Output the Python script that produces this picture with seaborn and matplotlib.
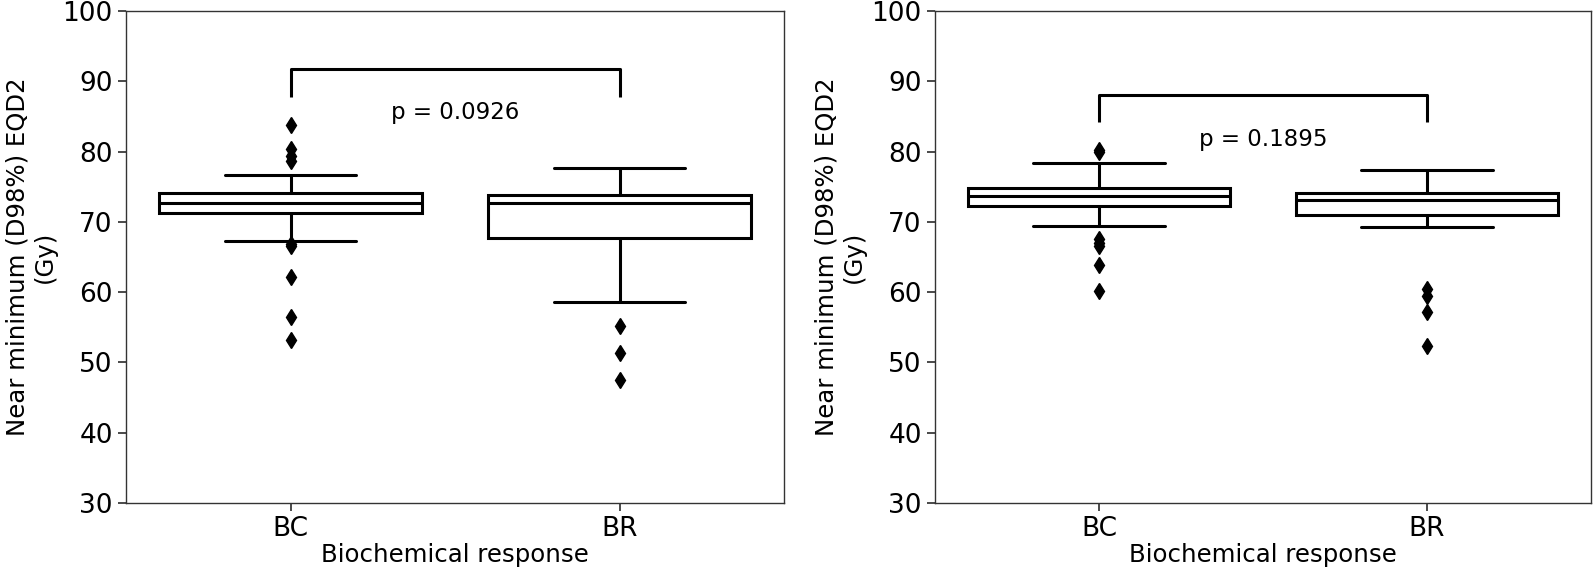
import numpy as np
import pandas as pd
import matplotlib
matplotlib.use("Agg")
import matplotlib.pyplot as plt
import seaborn as sns

# values (Gy)
groups = ["BC", "BR"]

# left panel
left_q1 = [71.3, 67.7]
left_median = [72.7, 72.7]
left_q3 = [74.1, 73.8]
left_whisker_low = [67.2, 58.6]
left_whisker_high = [76.7, 77.7]
left_outliers = [
    [53.2, 56.5, 62.2, 66.5, 66.9, 78.7, 79.3, 80.3, 83.8],
    [47.5, 51.3, 55.1],
]
left_p = "p = 0.0926"
left_bracket = [87.8, 91.7]   # leg bottom, bar top
left_p_y = 85.5

# right panel
right_q1 = [72.3, 70.9]
right_median = [73.7, 73.1]
right_q3 = [74.8, 74.1]
right_whisker_low = [69.4, 69.2]
right_whisker_high = [78.4, 77.3]
right_outliers = [
    [60.2, 63.8, 66.5, 67.0, 67.5, 79.9, 80.2],
    [52.3, 57.2, 59.4, 60.4],
]
right_p = "p = 0.1895"
right_bracket = [84.2, 88.1]
right_p_y = 81.7


def build_sample(q1, med, q3, wlo, whi, outliers):
    # sample whose quartiles / whiskers reproduce the read box statistics
    rows = []
    for i, g in enumerate(groups):
        vals = list(outliers[i]) + [wlo[i], whi[i]]
        vals += [q1[i]] * 20 + [med[i]] * 10 + [q3[i]] * 20
        rows += [(g, v) for v in vals]
    return pd.DataFrame(rows, columns=["group", "value"])


left_df = build_sample(left_q1, left_median, left_q3,
                       left_whisker_low, left_whisker_high, left_outliers)
right_df = build_sample(right_q1, right_median, right_q3,
                        right_whisker_low, right_whisker_high, right_outliers)

sns.set_theme(style="ticks")
plt.rcParams["font.family"] = ["DejaVu Sans"]
plt.rcParams["axes.edgecolor"] = "#333333"
plt.rcParams["axes.linewidth"] = 1.0
plt.rcParams["text.color"] = "black"
plt.rcParams["axes.labelcolor"] = "black"
plt.rcParams["xtick.labelcolor"] = "black"
plt.rcParams["ytick.labelcolor"] = "black"

fig = plt.figure(figsize=(15.94, 5.78), dpi=100)
ax1 = fig.add_axes([0.079, 0.130, 0.413, 0.851])
ax2 = fig.add_axes([0.5866, 0.130, 0.4115, 0.851])

panels = [
    (ax1, left_df, left_p, left_bracket, left_p_y),
    (ax2, right_df, right_p, right_bracket, right_p_y),
]

for ax, df, ptxt, bracket, py in panels:
    sns.boxplot(data=df, x="group", y="value", order=groups, ax=ax,
                color="white", linecolor="black", linewidth=2.2,
                fliersize=8, width=0.8,
                flierprops=dict(marker="d", markerfacecolor="black",
                                markeredgecolor="black"))
    ax.plot([0, 0, 1, 1], [bracket[0], bracket[1], bracket[1], bracket[0]],
            color="black", lw=2.2, solid_capstyle="butt")
    ax.text(0.5, py, ptxt, ha="center", va="center", fontsize=16.5)
    ax.set_ylim(30, 100)
    ax.set_yticks(range(30, 101, 10))
    ax.set_xlim(-0.5, 1.5)
    ax.tick_params(axis="both", labelsize=19, color="#333333")
    ax.set_ylabel("Near minimum (D98%) EQD2\n(Gy)", fontsize=17.6)
    ax.set_xlabel("Biochemical response", fontsize=17.6, labelpad=1)
    for s in ax.spines.values():
        s.set_visible(True)

fig.savefig("out.png", dpi=100)
